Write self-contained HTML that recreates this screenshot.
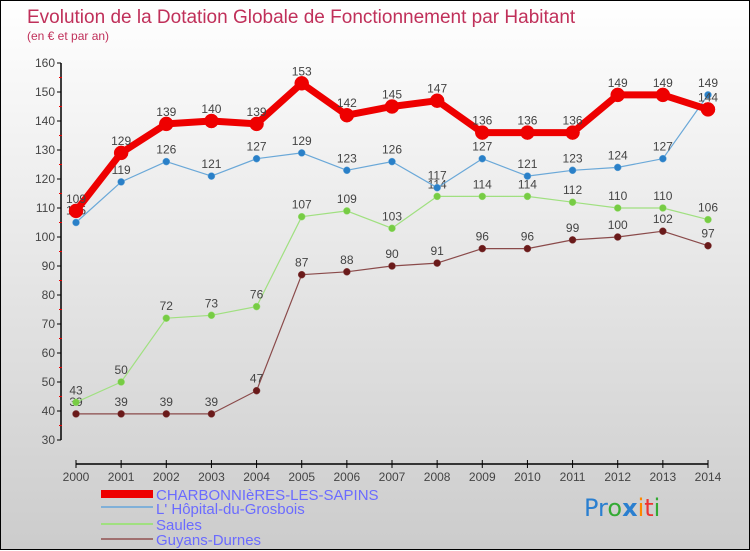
<!DOCTYPE html>
<html><head><meta charset="utf-8"><style>
html,body{margin:0;padding:0}
body{width:750px;height:550px;overflow:hidden;font-family:"Liberation Sans",sans-serif}
#wrap{position:relative;width:748px;height:548px;border:1px solid #000;background:linear-gradient(#fff,#ccc)}
svg{position:absolute;left:0;top:0}
</style></head><body>
<div id="wrap">
<svg id="chart" width="750" height="550">
<text x="26" y="22" font-size="19" fill="#c0305a">Evolution de la Dotation Globale de Fonctionnement par Habitant</text>
<text x="26" y="39" font-size="12" fill="#c0305a">(en € et par an)</text>
<g id="axes"></g>
<g id="series"></g>
<g id="legend">
<rect x="100" y="489" width="52" height="8" fill="#e00"/>
<text x="155" y="499" font-size="15" fill="#6b6bff">CHARBONNIèRES-LES-SAPINS</text>
<rect x="100" y="505" width="52" height="2" fill="#80b0d8"/>
<text x="155" y="513" font-size="15" fill="#6b6bff">L' Hôpital-du-Grosbois</text>
<rect x="100" y="522" width="52" height="2" fill="#a0e080"/>
<text x="155" y="529" font-size="15" fill="#6b6bff">Saules</text>
<rect x="100" y="537" width="52" height="2" fill="#a07070"/>
<text x="155" y="544" font-size="15" fill="#6b6bff">Guyans-Durnes</text>
</g>
<g font-size="24" font-family="'DejaVu Sans',sans-serif">
<text x="583" y="515"><tspan fill="#2a7fd0">Pr</tspan><tspan fill="#3a3">o</tspan><tspan fill="#2a7fd0" font-weight="bold">x</tspan><tspan fill="#f80">i</tspan><tspan fill="#e33">t</tspan><tspan fill="#3a3">i</tspan></text>
</g>
</svg>
</div>
<script>
const years=[2000,2001,2002,2003,2004,2005,2006,2007,2008,2009,2010,2011,2012,2013,2014];
const yTicks=[30,40,50,60,70,80,90,100,110,120,130,140,150,160];
const charb=[109,129,139,140,139,153,142,145,147,136,136,136,149,149,144];
const hopital=[105,119,126,121,127,129,123,126,117,127,121,123,124,127,149];
const saules=[43,50,72,73,76,107,109,103,114,114,114,112,110,110,106];
const guyans=[39,39,39,39,47,87,88,90,91,96,96,99,100,102,97];
const NS="http://www.w3.org/2000/svg";
function xs(i){return 75+i*(707-75)/(years.length-1);}
function ys(v){return 207-(v-110)*2.9;}
function mk(tag,attrs,parent){const e=document.createElementNS(NS,tag);for(const k in attrs)e.setAttribute(k,attrs[k]);parent.appendChild(e);return e;}
const axes=document.getElementById('axes');
const ya=mk('line',{x1:60,y1:ys(160),x2:60,y2:ys(30),stroke:'#000','stroke-width':1.5},axes);


yTicks.forEach(v=>{
  mk('line',{x1:56,x2:60,y1:ys(v),y2:ys(v),stroke:'#000'},axes);
  if(v<160)mk('line',{x1:58,x2:61,y1:ys(v+5),y2:ys(v+5),stroke:'#e00'},axes);
  const t=mk('text',{x:54,y:ys(v)+4,'font-size':12,'text-anchor':'end',fill:'#444'},axes);
  t.textContent=v;
  
  
});
const xa=mk('line',{x1:75,x2:707,y1:463,y2:463,stroke:'#000','stroke-width':1.5},axes);


years.forEach((y,i)=>{
  mk('line',{x1:xs(i),x2:xs(i),y1:459,y2:467,stroke:'#000'},axes);
  const t=mk('text',{x:xs(i),y:480,'font-size':12,'text-anchor':'middle',fill:'#444'},axes);
  t.textContent=y;
  
  
});
const S=document.getElementById('series');
function draw(data,color,dot,w,r,name){
  const g=mk('g',{},S);
  
  
  mk('polyline',{points:data.map((v,i)=>xs(i)+','+ys(v)).join(' '),fill:'none',stroke:color,'stroke-width':w,'stroke-linejoin':'round'},g);
  data.forEach((v,i)=>{
    const c=mk('circle',{cx:xs(i),cy:ys(v),r:r,fill:dot,stroke:color,'stroke-width':0.5},g);
    
    
    const t=mk('text',{x:xs(i),y:ys(v)-8,'font-size':12,'text-anchor':'middle',fill:'#444'},g);
    t.textContent=v;
    
    
  });
}
draw(guyans,'#8a4a4a','#6a1a1a',1.2,3.5,'guyans');
draw(saules,'#a0e080','#7c4',1.2,3.5,'saules');
draw(hopital,'#6aa8d8','#2a80c8',1.2,3.5,'hopital');
draw(charb,'#ee0000','#ee0000',7,7,'charbonnieres');
</script>
</body></html>
